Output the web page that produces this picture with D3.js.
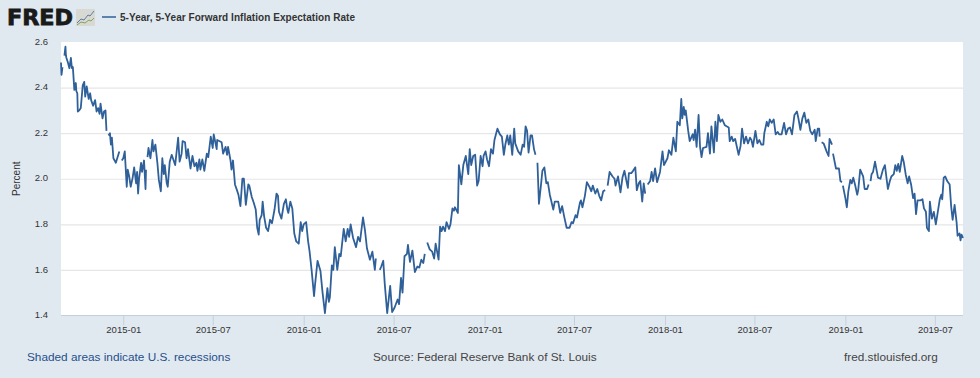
<!DOCTYPE html>
<html>
<head>
<meta charset="utf-8">
<script src="https://d3js.org/d3.v7.min.js"></script>
<style>
    html, body { margin: 0; padding: 0; background: #e1e9f0; }
    svg { display: block; font-family: "Liberation Sans", Arial, sans-serif; }
    .domain { display: none; }
</style>
</head>
<body>
<svg></svg>
<script>
    const startDate = "2014-08-28"
    const endDay = 1825
    const seriesName = "5-Year, 5-Year Forward Inflation Expectation Rate"
    const xTicks = ["2015-01", "2015-07", "2016-01", "2016-07", "2017-01", "2017-07", "2018-01", "2018-07", "2019-01", "2019-07"]
    const yTicks = [1.4, 1.6, 1.8, 2.0, 2.2, 2.4, 2.6]

    // days since startDate; a null rate is a gap in the series
    const days = [
        0, 1, 3, 5, 7, 9, 10, 11, 14, 17, 20, 22, 24, 27, 30, 31, 33, 34, 37, 40,
        44, 47, 49, 52, 56, 59, 61, 65, 69, 72, 75, 78, 80, 84, 87, 90, 92, 94, 96, 99,
        101, 103, 106, 111, 118, 120, 123, 126, 129, 133, 135, 138, 141, 145, 148, 152, 154, 156, 158, 162,
        164, 168, 171, 172, 174, 175, 177, 181, 185, 187, 191, 195, 198, 202, 205, 208, 210, 214, 216, 220,
        224, 231, 237, 240, 244, 246, 251, 254, 257, 262, 266, 270, 274, 276, 280, 282, 286, 290, 295, 298,
        303, 307, 309, 315, 316, 325, 328, 333, 336, 338, 343, 345, 348, 352, 356, 359, 363, 367, 370, 374,
        379, 381, 386, 390, 394, 397, 400, 402, 406, 408, 411, 415, 419, 423, 427, 432, 436, 439, 441, 446,
        451, 455, 458, 460, 464, 468, 472, 476, 481, 485, 488, 491, 496, 500, 503, 507, 512, 514, 519, 525,
        529, 534, 539, 542, 544, 548, 551, 554, 559, 563, 566, 572, 576, 580, 583, 586, 591, 597, 601, 605,
        611, 615, 619, 625, 630, 635, 637, 640, 645, 648, 652, 655, 660, 666, 670, 675, 681, 684, 688, 691,
        695, 700, 702, 706, 711, 716, 721, 725, 729, 733, 736, 739, 741, 746, 751, 755, 758, 764, 767, 770,
        773, 777, 780, 785, 788, 792, 795, 797, 803, 805, 810, 814, 819, 824, 827, 830, 834, 838, 842, 845,
        849, 853, 855, 859, 862, 866, 870, 874, 877, 883, 888, 892, 896, 899, 903, 906, 909, 913, 917, 919,
        925, 930, 934, 937, 940, 943, 946, 950, 953, 957, 960, 962, 964, 967, 971, 974, 978, 982, 985, 989,
        996, 999, 1006, 1010, 1014, 1018, 1023, 1029, 1033, 1036, 1041, 1044, 1050, 1052, 1055, 1060, 1064, 1069, 1073, 1076,
        1081, 1085, 1089, 1093, 1097, 1101, 1103, 1106, 1110, 1116, 1120, 1122, 1127, 1132, 1136, 1140, 1145, 1147, 1149, 1154,
        1156, 1162, 1165, 1169, 1172, 1176, 1179, 1182, 1184, 1187, 1192, 1195, 1198, 1202, 1206, 1212, 1217, 1220, 1227, 1230,
        1235, 1239, 1244, 1247, 1252, 1255, 1257, 1260, 1262, 1264, 1269, 1272, 1278, 1280, 1283, 1286, 1290, 1293, 1296, 1299,
        1306, 1309, 1313, 1316, 1321, 1324, 1327, 1330, 1334, 1338, 1343, 1351, 1353, 1357, 1360, 1364, 1368, 1371, 1375, 1378,
        1382, 1386, 1390, 1394, 1397, 1400, 1405, 1409, 1413, 1417, 1421, 1423, 1428, 1431, 1434, 1438, 1442, 1446, 1450, 1453,
        1458, 1463, 1467, 1471, 1475, 1479, 1484, 1489, 1492, 1496, 1500, 1504, 1508, 1512, 1516, 1520, 1525, 1527, 1531, 1534,
        1535, 1537, 1539, 1543, 1549, 1553, 1555, 1560, 1561, 1562, 1568, 1574, 1577, 1580, 1581, 1582, 1587, 1590, 1593, 1597,
        1600, 1603, 1607, 1611, 1613, 1617, 1623, 1626, 1631, 1634, 1636, 1638, 1640, 1643, 1647, 1653, 1658, 1663, 1667, 1673,
        1677, 1680, 1685, 1688, 1691, 1694, 1697, 1702, 1705, 1709, 1713, 1716, 1720, 1724, 1727, 1730, 1733, 1739, 1743, 1746,
        1750, 1752, 1756, 1758, 1762, 1766, 1770, 1773, 1778, 1781, 1783, 1786, 1789, 1793, 1798, 1801, 1804, 1808, 1812, 1814,
        1818, 1820, 1822, 1825
    ]
    const rates = [
        2.51, 2.456, 2.49, null, 2.54, 2.58, 2.54, 2.53, 2.51, 2.485, 2.53, 2.485, 2.49, 2.39, 2.42, 2.385, 2.375, 2.295, 2.30, 2.31,
        2.41, 2.425, 2.36, 2.405, 2.35, 2.375, 2.345, 2.32, 2.345, 2.295, 2.31, 2.285, 2.33, 2.265, 2.295, 2.30, 2.21, null, 2.19, 2.20,
        2.15, 2.18, 2.09, 2.07, 2.12, null, 2.08, 2.09, 2.12, 1.965, 2.04, 2.01, 1.965, 2.005, 2.05, 1.98, 2.03, 1.935, 2.0, 2.07,
        2.03, 2.08, 1.955, 2.04, null, 2.095, 2.135, 2.09, 2.17, 2.12, 2.15, 2.07, 1.995, 1.945, 2.09, 2.02, 2.06, 1.98, 1.965, 2.075,
        2.105, 2.06, 2.18, 2.075, 2.11, 2.165, 2.16, 2.09, 2.13, 2.045, 2.10, 2.055, 2.07, 2.035, 2.085, 2.04, 2.085, 2.035, 2.11, 2.095,
        2.185, 2.135, 2.195, 2.13, 2.17, 2.16, 2.11, 2.14, 2.105, 2.14, 2.08, 2.04, 2.08, 1.975, 1.95, 1.93, 1.88, 2.0, 2.0, 1.885,
        1.975, 1.97, 1.92, 1.895, 1.865, 1.785, 1.755, 1.82, 1.84, 1.90, 1.835, 1.785, 1.77, 1.82, 1.805, 1.865, 1.935, 1.925, 1.855, 1.825,
        1.89, 1.91, 1.865, 1.85, 1.90, 1.87, 1.76, 1.725, 1.715, 1.81, 1.77, 1.80, 1.81, 1.725, 1.68, 1.60, 1.485, 1.535, 1.64, 1.595,
        1.505, 1.41, 1.52, 1.46, 1.48, 1.62, 1.60, 1.70, 1.60, 1.67, 1.66, 1.78, 1.725, 1.78, 1.745, 1.80, 1.74, 1.70, 1.745, 1.725,
        1.83, 1.775, 1.695, 1.645, 1.68, 1.60, 1.65, null, 1.60, 1.615, 1.64, 1.54, 1.41, 1.53, 1.415, 1.435, 1.47, 1.45, 1.565, 1.50,
        1.66, 1.67, 1.71, 1.635, 1.685, 1.59, 1.615, 1.61, 1.645, 1.63, 1.67, null, 1.72, 1.69, 1.68, 1.65, 1.715, 1.645, 1.79, 1.77,
        1.79, 1.77, 1.81, 1.78, 1.80, 1.87, 1.86, 1.875, 1.85, 2.06, 1.975, 2.06, 2.10, 2.02, 2.13, 2.06, 2.10, 2.105, 1.97, 1.99,
        2.10, 2.055, 2.10, 2.12, 2.085, 2.055, 2.13, 2.11, 2.17, 2.22, 2.195, 2.185, 2.105, 2.15, 2.19, 2.15, 2.19, 2.105, 2.22, 2.155,
        2.12, 2.105, 2.15, 2.14, 2.23, 2.21, 2.115, 2.19, 2.19, 2.13, 2.105, null, 2.07, 1.89, 1.97, 2.035, 2.05, 1.98, 1.985, 1.93,
        1.865, 1.90, 1.90, 1.85, 1.88, 1.835, 1.785, 1.785, 1.81, 1.805, 1.84, 1.83, 1.895, 1.905, 1.875, 1.925, 1.985, 1.965, 1.945, 1.97,
        1.935, 1.955, 1.925, 1.905, 1.945, 1.95, null, 1.97, 2.03, 2.01, 2.0, 1.97, 2.01, 1.94, 2.005, 2.035, 1.98, 1.96, 2.025, 2.025,
        2.03, 2.05, 1.95, 1.98, 1.99, 1.90, 1.98, 1.935, null, 1.975, 1.99, 2.03, 1.99, 2.045, 1.985, 2.03, 2.12, 2.06, 2.09, 2.125,
        2.105, 2.18, 2.12, 2.25, 2.235, 2.35, 2.265, 2.315, 2.28, 2.30, 2.21, 2.165, 2.195, 2.17, 2.215, 2.14, 2.28, 2.14, 2.095, 2.135,
        2.14, 2.20, 2.11, 2.23, 2.115, 2.25, 2.165, 2.28, 2.25, 2.26, 2.235, 2.225, 2.165, 2.185, 2.165, 2.175, 2.135, 2.105, 2.145, 2.22,
        2.155, 2.185, 2.155, 2.18, 2.17, 2.14, 2.21, 2.155, 2.17, 2.15, 2.15, 2.20, 2.25, 2.23, 2.26, 2.245, 2.26, 2.195, 2.205, 2.195,
        2.195, 2.245, 2.195, 2.22, 2.225, 2.195, 2.28, 2.295, 2.265, 2.215, 2.265, 2.29, 2.245, 2.26, 2.21, 2.195, 2.215, 2.165, 2.22, 2.22,
        2.185, null, 2.16, 2.155, 2.12, 2.10, 2.175, 2.15, null, 2.11, 2.045, 2.045, 1.99, 1.985, null, 1.97, 1.915, 1.875, 1.945, 1.995,
        1.98, 2.005, 1.97, 1.93, 1.95, 2.04, 2.01, 1.955, 1.955, 1.975, null, 1.99, 2.02, 2.03, 2.075, 2.005, 2.0, 2.04, 2.06, 1.955,
        1.99, 2.01, 2.02, 2.06, 2.035, 2.065, 2.03, 2.10, 2.075, 2.02, 1.98, 2.01, 1.975, 1.915, 1.935, 1.845, 1.905, 1.905, 1.91, 1.87,
        1.855, 1.785, 1.77, 1.90, 1.825, 1.855, 1.80, 1.84, 1.91, 1.93, 1.91, 2.005, 2.01, 1.99, 1.975, 1.88, 1.82, 1.885, 1.81, 1.75,
        1.76, 1.73, 1.755, 1.74
    ]

    const width = 980,
          height = 378,
          plotLeft = 61,
          plotRight = 963,
          plotTop = 42,
          plotBottom = 315.5,
          lineColor = "#2f6099"

    const svg = d3.select("svg").attr("width", width).attr("height", height)

    const start = d3.utcParse("%Y-%m-%d")(startDate)
    const dayDate = d => d3.utcDay.offset(start, d)
    const x = d3.scaleUtc().domain([start, dayDate(endDay)]).range([plotLeft, plotRight])
    const y = d3.scaleLinear().domain([1.4, 2.6]).range([plotBottom, plotTop])

    svg.append("rect")
        .attr("x", plotLeft).attr("y", plotTop)
        .attr("width", plotRight - plotLeft).attr("height", plotBottom - plotTop)
        .attr("fill", "#fff")

    // y axis, its ticks stretched across the plot as grid lines
    const yAxis = svg.append("g")
        .attr("transform", "translate(" + plotLeft + ",0)")
        .call(d3.axisLeft(y).tickValues(yTicks).tickFormat(d3.format(".1f")).tickSize(-(plotRight - plotLeft)).tickPadding(13))
    yAxis.selectAll("line")
        .attr("stroke", "#e6e6e6")
        .attr("stroke-width", 1.2)
        .attr("display", d => (d === 1.4 || d === 2.6) ? "none" : null)
    yAxis.selectAll("text").attr("font-size", 9.5).attr("fill", "#333").attr("font-family", null).attr("dy", "0.22em")

    const parseMonth = d3.utcParse("%Y-%m")
    const xAxis = svg.append("g")
        .attr("transform", "translate(0," + plotBottom + ")")
        .call(d3.axisBottom(x).tickValues(xTicks.map(parseMonth)).tickFormat(d3.utcFormat("%Y-%m")).tickSize(10).tickPadding(1))
    xAxis.selectAll("line").attr("stroke", "#c0d0e0")
    xAxis.selectAll("text").attr("font-size", 9.5).attr("fill", "#333").attr("font-family", null)

    svg.append("line")
        .attr("x1", plotLeft).attr("x2", plotRight)
        .attr("y1", plotBottom).attr("y2", plotBottom)
        .attr("stroke", "#c0d0e0")

    const line = d3.line()
        .defined(i => rates[i] !== null)
        .x(i => x(dayDate(days[i])))
        .y(i => y(rates[i]))

    svg.append("path")
        .attr("d", line(d3.range(days.length)))
        .attr("fill", "none")
        .attr("stroke", lineColor)
        .attr("stroke-width", 1.8)
        .attr("stroke-linejoin", "round")

    svg.append("text")
        .attr("transform", "translate(20," + (plotTop + plotBottom) / 2 + ")rotate(-90)")
        .attr("text-anchor", "middle")
        .attr("font-size", 10)
        .attr("fill", "#333")
        .text("Percent")

    // header: logo, little chart icon, legend
    svg.append("text")
        .attr("x", 7).attr("y", 25)
        .attr("font-size", 21)
        .attr("font-weight", "bold")
        .attr("font-family", "'DejaVu Sans', sans-serif")
        .attr("textLength", 66)
        .attr("lengthAdjust", "spacingAndGlyphs")
        .attr("fill", "#1a1a1a")
        .attr("stroke", "#1a1a1a")
        .attr("stroke-width", 0.8)
        .text("FRED")

    const icon = svg.append("g").attr("transform", "translate(76,9)")
    icon.append("rect").attr("width", 19).attr("height", 17).attr("rx", 1).attr("fill", "#d9d9d4")
    icon.append("path").attr("d", "M1 14L5 10L8 11L12 6L14 7L18 2").attr("fill", "none").attr("stroke", "#4d7299").attr("stroke-width", 0.9)
    icon.append("path").attr("d", "M1 16L5 13L9 14L13 11L15 12L18 9").attr("fill", "none").attr("stroke", "#7d9a55").attr("stroke-width", 0.9)

    svg.append("line")
        .attr("x1", 102).attr("x2", 116)
        .attr("y1", 17).attr("y2", 17)
        .attr("stroke", lineColor)
        .attr("stroke-width", 1.5)
    svg.append("text")
        .attr("x", 120).attr("y", 20.5)
        .attr("font-size", 10)
        .attr("font-weight", "bold")
        .attr("fill", "#333")
        .attr("textLength", 235)
        .text(seriesName)

    // footer
    const notes = [
        {t: "Shaded areas indicate U.S. recessions", x: 27, c: "#1f4f8b"},
        {t: "Source: Federal Reserve Bank of St. Louis", x: 373, c: "#444"},
        {t: "fred.stlouisfed.org", x: 844, c: "#444"}
    ]
    svg.selectAll(".note")
        .data(notes)
        .enter().append("text")
        .attr("class", "note")
        .attr("x", d => d.x)
        .attr("y", 361)
        .attr("font-size", 11.8)
        .attr("fill", d => d.c)
        .text(d => d.t)
</script>
</body>
</html>
